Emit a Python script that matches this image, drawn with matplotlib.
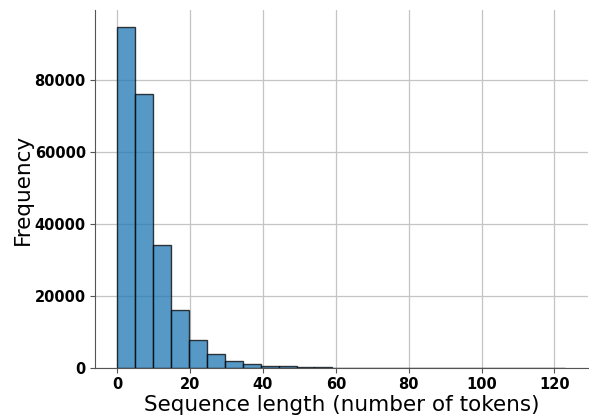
import matplotlib.pyplot as plt
import numpy as np

# histogram bins: 25 equal bins from 0 to 123 tokens
bin_edges = np.linspace(0, 123, 26)
bin_counts = [94700, 76000, 34100, 16100, 7800, 3800, 1850, 1000, 650, 420,
              280, 190, 130, 90, 60, 40, 30, 20, 15, 10,
              8, 6, 4, 3, 2]

fig, ax = plt.subplots(figsize=(5.89, 4.17), dpi=100)
fig.subplots_adjust(left=0.161, right=0.998, bottom=0.1175, top=0.976)

ax.hist(bin_edges[:-1], bins=bin_edges, weights=bin_counts,
        color="#1f77b4", alpha=0.75, edgecolor="black", linewidth=1, zorder=2)

ax.grid(True, color="#c4c4c4", linewidth=0.9, zorder=0)
ax.set_axisbelow(True)
ax.margins(x=0.05, y=0.05)
ax.set_ylim(0, max(bin_counts) * 1.05)

for side in ["top", "right"]:
    ax.spines[side].set_visible(False)
for side in ["left", "bottom"]:
    ax.spines[side].set_color("#555555")
ax.tick_params(colors="black", labelsize=10.5, pad=3)
ax.tick_params(axis="both", color="#555555")
for lbl in ax.get_xticklabels() + ax.get_yticklabels():
    lbl.set_fontweight("bold")

ax.set_xlabel("Sequence length (number of tokens)", fontsize=15.5, labelpad=2)
ax.set_ylabel("Frequency", fontsize=15.5, labelpad=1)

plt.savefig("out.png")
